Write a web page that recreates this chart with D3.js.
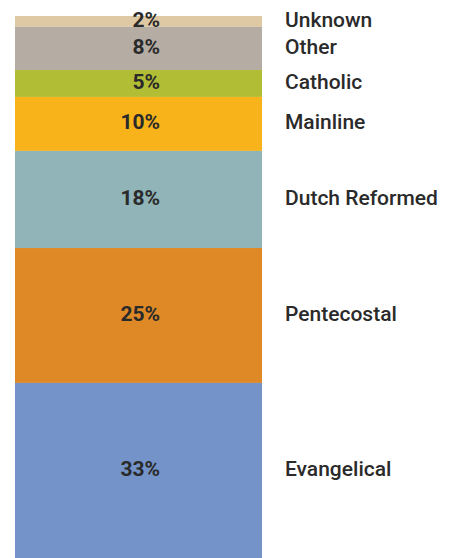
<!DOCTYPE html>
<html>
<head>
<meta charset="utf-8">
<script src="https://cdn.jsdelivr.net/npm/d3@7"></script>
<style>
  html, body { margin: 0; padding: 0; background: #fff; overflow: hidden; }
  svg { display: block; }
</style>
</head>
<body>
<svg id="chart" width="450" height="558"></svg>
<script>
// Religious affiliation shares, stacked top to bottom
const categories = ["Unknown", "Other", "Catholic", "Mainline", "Dutch Reformed", "Pentecostal", "Evangelical"];
const shares = [2, 8, 5, 10, 18, 25, 33];
const colors = ["#dfc9a4", "#b5aca3", "#b2bd36", "#f9b31a", "#90b4b7", "#de8926", "#7494c9"];

const svg = d3.select("#chart");

// the bar runs slightly past the bottom edge of the frame
const barX = 15, barW = 247, barTop = 16, barBottom = 561;
const total = d3.sum(shares);

const y = d3.scaleLinear().domain([0, total]).range([barTop, barBottom]);

let acc = 0;
const segs = categories.map((c, i) => {
  const s = { name: c, value: shares[i], color: colors[i], y0: acc, y1: acc + shares[i] };
  acc += shares[i];
  return s;
});

const g = svg.append("g");

g.selectAll("rect")
  .data(segs)
  .join("rect")
  .attr("x", barX)
  .attr("width", barW)
  .attr("y", d => y(d.y0))
  .attr("height", d => y(d.y1) - y(d.y0))
  .attr("fill", d => d.color);

const mid = d => (y(d.y0) + Math.min(y(d.y1), 558)) / 2 - 2;

g.selectAll("text.val")
  .data(segs)
  .join("text")
  .attr("class", "val")
  .attr("x", 160)
  .attr("y", mid)
  .attr("dy", "0.35em")
  .attr("text-anchor", "end")
  .attr("font-family", "Roboto, sans-serif")
  .attr("font-weight", 700)
  .attr("font-size", 21)
  .attr("fill", "#2a2a2a")
  .text(d => d.value + "%");

g.selectAll("text.name")
  .data(segs)
  .join("text")
  .attr("class", "name")
  .attr("x", 285)
  .attr("y", mid)
  .attr("dy", "0.35em")
  .attr("font-family", "Roboto, sans-serif")
  .attr("font-weight", 500)
  .attr("font-size", 21)
  .attr("fill", "#2a2a2a")
  .text(d => d.name);
</script>
</body>
</html>
